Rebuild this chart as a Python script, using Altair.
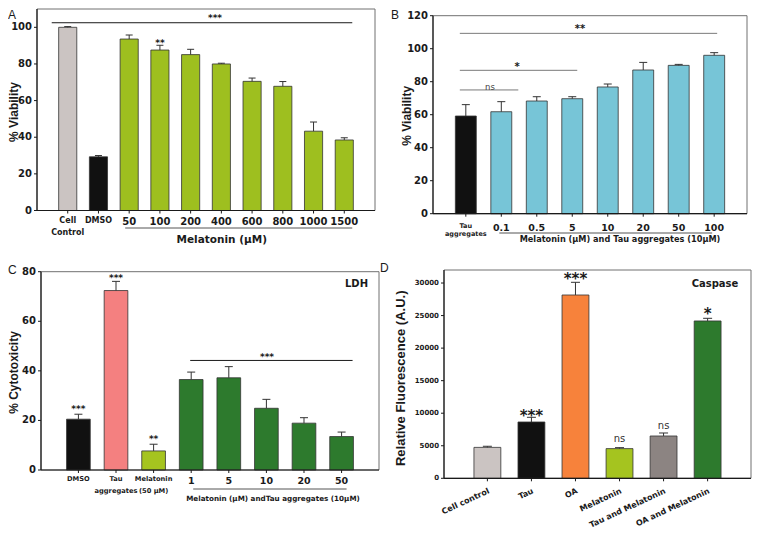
import altair as alt
import pandas as pd

W, H = 744, 521
FONT = "DejaVu Sans"
TFONT = "Liberation Sans"
INK = "#1a1a1a"
EDGE = "#333333"
FRAME = "#707070"

# ---------------- Panel A : viability vs melatonin ----------------
a_cats = ["Cell Control", "DMSO", "50", "100", "200", "400", "600", "800", "1000", "1500"]
a_vals = [100.0, 29.3, 93.6, 87.6, 85.1, 80.0, 70.5, 67.8, 43.3, 38.5]
a_errs = [0.4, 0.7, 2.2, 2.6, 2.9, 0.4, 1.8, 2.6, 5.0, 1.2]
a_ticks = [0, 20, 40, 60, 80, 100]

# ---------------- Panel B : viability, melatonin + tau ----------------
b_cats = ["Tau aggregates", "0.1", "0.5", "5", "10", "20", "50", "100"]
b_vals = [59.2, 61.8, 68.3, 69.7, 76.8, 87.1, 89.9, 96.0]
b_errs = [6.9, 6.1, 2.6, 1.2, 1.8, 4.6, 0.6, 1.6]
b_ticks = [0, 20, 40, 60, 80, 100, 120]

# ---------------- Panel C : LDH cytotoxicity ----------------
c_cats = ["DMSO", "Tau aggregates", "Melatonin (50\u00a0μM)", "1", "5", "10", "20", "50"]
c_vals = [20.5, 72.4, 7.7, 36.5, 37.2, 24.9, 18.9, 13.5]
c_errs = [2.0, 3.7, 2.7, 3.0, 4.5, 3.6, 2.2, 1.8]
c_ticks = [0, 20, 40, 60, 80]

# ---------------- Panel D : caspase ----------------
d_cats = ["Cell control", "Tau", "OA", "Melatonin", "Tau and Melatonin", "OA and Melatonin"]
d_vals = [4750, 8650, 28160, 4560, 6500, 24170]
d_errs = [170, 720, 1950, 150, 460, 410]
d_ticks = [0, 5000, 10000, 15000, 20000, 25000, 30000]

# significance marks over bars
a_star_cats, a_star_y, a_star_txt = ["100"], [92.8], ["**"]
c_star_cats, c_star_y, c_star_txt = ["DMSO", "Tau aggregates", "Melatonin (50\u00a0μM)"], [25.5, 78.3, 13.3], ["***", "***", "**"]
d_star_cats, d_star_y, d_star_txt = ["Tau", "OA", "OA and Melatonin"], [10230, 31200, 25880], ["***", "***", "*"]
d_ns_cats, d_ns_y = ["Melatonin", "Tau and Melatonin"], [6040, 8030]

# colours
GREY, BLACK, LIME, CYAN = "#cbc4c2", "#111111", "#9ebf1f", "#77c5d7"
SALMON, DKGREEN, ORANGE, TAUPE = "#f48080", "#2d7a2d", "#f7823b", "#8c8482"
a_colors = [GREY, BLACK] + [LIME] * 8
b_colors = [BLACK] + [CYAN] * 7
c_colors = [BLACK, SALMON, "#a5c41f"] + [DKGREEN] * 5
d_colors = [GREY, BLACK, ORANGE, "#a5c41f", TAUPE, DKGREEN]

ONE = pd.DataFrame({"k": [0]})


def bar_layers(cats, vals, errs, colors, xs, ys, ydom, xr, cap):
    df = pd.DataFrame({"cat": cats, "val": vals,
                       "top": [v + e for v, e in zip(vals, errs)], "col": colors})
    frame = alt.Chart(ONE).mark_rect(fillOpacity=0, stroke=FRAME, strokeWidth=1).encode(
        x=alt.value(xr[0]), x2=alt.value(xr[1]),
        y=alt.YDatum(ydom[1], scale=ys, axis=None), y2=alt.Y2Datum(ydom[0]))
    bars = alt.Chart(df).mark_bar(stroke=EDGE, strokeWidth=0.8).encode(
        x=alt.X("cat:N", scale=xs, axis=None, sort=cats),
        y=alt.Y("val:Q", scale=ys, axis=None),
        y2=alt.Y2Datum(0),
        color=alt.Color("col:N", scale=None))
    err = alt.Chart(df).mark_rule(color=EDGE, strokeWidth=1).encode(
        x=alt.X("cat:N", scale=xs, axis=None, sort=cats),
        y=alt.Y("val:Q", scale=ys, axis=None), y2=alt.Y2("top"))
    caps = alt.Chart(df).mark_rule(color=EDGE, strokeWidth=1, xOffset=-cap, x2Offset=cap).encode(
        x=alt.X("cat:N", scale=xs, axis=None, sort=cats), x2=alt.X2("cat"),
        y=alt.Y("top:Q", scale=ys, axis=None))
    return [frame, bars, err, caps]


def axis_layers(cats, xs, ys, xr, yr, yticks, ysize, num_size, txt_size, line_h,
                gap=4, rotated=False):
    tdf = pd.DataFrame({"v": yticks})
    cdf = pd.DataFrame({"cat": cats})
    ydomain = alt.Chart(ONE).mark_rule(color=INK, strokeWidth=1.2).encode(
        x=alt.value(xr[0]), y=alt.value(yr[1]), y2=alt.value(yr[0]))
    xdomain = alt.Chart(ONE).mark_rule(color=INK, strokeWidth=1.2).encode(
        x=alt.value(xr[0]), x2=alt.value(xr[1]), y=alt.value(yr[0]))
    yt = alt.Chart(tdf).mark_rule(color=INK, strokeWidth=1).encode(
        x=alt.value(xr[0] - 3), x2=alt.value(xr[0]), y=alt.Y("v:Q", scale=ys, axis=None))
    yl = alt.Chart(tdf).mark_text(font=FONT, fontWeight="bold", fontSize=ysize, color=INK,
                                  align="right", baseline="middle").encode(
        x=alt.value(xr[0] - 5), y=alt.Y("v:Q", scale=ys, axis=None),
        text=alt.Text("v:Q", format="d"))
    xt = alt.Chart(cdf).mark_rule(color=INK, strokeWidth=1).encode(
        x=alt.X("cat:N", scale=xs, axis=None), y=alt.value(yr[0]), y2=alt.value(yr[0] + 3))
    if rotated:
        xl = alt.Chart(cdf).mark_text(font=FONT, fontWeight="bold", fontSize=num_size, color=INK,
                                      align="right", baseline="top", angle=335).encode(
            x=alt.X("cat:N", scale=xs, axis=None), y=alt.value(yr[0] + gap), text="cat:N")
    else:
        xl = alt.Chart(cdf).transform_calculate(
            lab="replace(datum.cat, ' ', '\\n')"
        ).mark_text(font=FONT, fontWeight="bold", color=INK, align="center", baseline="top",
                    lineBreak="\n", lineHeight=line_h).encode(
            x=alt.X("cat:N", scale=xs, axis=None), y=alt.value(yr[0] + gap), text="lab:N",
            size=alt.condition("isNaN(toNumber(datum.cat))", alt.value(txt_size), alt.value(num_size)))
    return [ydomain, xdomain, yt, yl, xt, xl]


def cat_text(cats, yv, texts, xs, ys, size, weight="bold", color=INK, dy=0):
    df = pd.DataFrame({"cat": cats, "y": yv, "t": texts})
    return alt.Chart(df).mark_text(font=FONT, fontSize=size, fontWeight=weight, color=color,
                                   baseline="middle", dy=dy).encode(
        x=alt.X("cat:N", scale=xs, axis=None), y=alt.Y("y:Q", scale=ys, axis=None), text="t:N")


def px_text(txt, x, yv, ys, size, weight="bold", color=INK, dy=0, align="center"):
    df = pd.DataFrame({"y": [yv], "t": [txt]})
    return alt.Chart(df).mark_text(font=FONT, fontSize=size, fontWeight=weight, color=color,
                                   baseline="middle", dy=dy, align=align).encode(
        x=alt.value(x), y=alt.Y("y:Q", scale=ys, axis=None), text="t:N")


def sig_line(c1, c2, yv, xs, ys, o1, o2, color, pixel_y=None):
    df = pd.DataFrame({"a": [c1], "b": [c2], "y": [yv]})
    enc = dict(x=alt.X("a:N", scale=xs, axis=None), x2=alt.X2("b"))
    if pixel_y is None:
        enc["y"] = alt.Y("y:Q", scale=ys, axis=None)
    else:
        enc["y"] = alt.value(pixel_y)
    return alt.Chart(df).mark_rule(color=color, strokeWidth=1, xOffset=o1, x2Offset=o2).encode(**enc)


def label(txt, x, y, size, font=FONT, weight="bold", angle=0, align="center", baseline="middle"):
    return alt.Chart(pd.DataFrame({"t": [txt]})).mark_text(
        font=font, fontSize=size, fontWeight=weight, angle=angle, align=align,
        baseline=baseline, color=INK).encode(x=alt.value(x), y=alt.value(y), text="t:N")


# ---------------- build panel A ----------------
a_xr, a_yr, a_dom = [29, 367], [202.5, 1], [0, 110]
a_xs = alt.Scale(domain=a_cats, range=a_xr, paddingInner=0.41, paddingOuter=0.705)
a_ys = alt.Scale(domain=a_dom, range=a_yr, nice=False)
pA = alt.layer(
    *bar_layers(a_cats, a_vals, a_errs, a_colors, a_xs, a_ys, a_dom, a_xr, 3.5),
    *axis_layers(a_cats, a_xs, a_ys, a_xr, a_yr, a_ticks, 10, 10, 8, 12, gap=6),
    sig_line("Cell Control", "1500", 102.5, a_xs, a_ys, -16, 8, INK),
    px_text("***", 207, 106, a_ys, 9, dy=2),
    cat_text(a_star_cats, a_star_y, a_star_txt, a_xs, a_ys, 9, dy=2),
    sig_line("50", "1500", 0, a_xs, a_ys, -4, 8, "#555555", pixel_y=220),
)

# ---------------- build panel B ----------------
b_xr, b_yr, b_dom = [425, 739], [205.7, 7.7], [0, 120]
b_xs = alt.Scale(domain=b_cats, range=b_xr, paddingInner=0.41, paddingOuter=0.63)
b_ys = alt.Scale(domain=b_dom, range=b_yr, nice=False)
pB = alt.layer(
    *bar_layers(b_cats, b_vals, b_errs, b_colors, b_xs, b_ys, b_dom, b_xr, 4),
    *axis_layers(b_cats, b_xs, b_ys, b_xr, b_yr, b_ticks, 10, 9.5, 6.5, 8.5, gap=9),
    sig_line("Tau aggregates", "100", 109.3, b_xs, b_ys, -6, 3, "#7a7a7a"),
    sig_line("Tau aggregates", "5", 86.9, b_xs, b_ys, -6, 5, "#7a7a7a"),
    sig_line("Tau aggregates", "0.1", 75.0, b_xs, b_ys, -6, 17, "#7a7a7a"),
    px_text("**", 572, 113.2, b_ys, 10, dy=2),
    px_text("*", 509, 90.1, b_ys, 10, dy=2),
    px_text("ns", 482, 76.6, b_ys, 8.5, weight="normal", color="#444444"),
    sig_line("0.1", "100", 0, b_xs, b_ys, -2, -2, "#555555", pixel_y=225),
)

# ---------------- build panel C ----------------
c_xr, c_yr, c_dom = [33, 371], [462, 263.7], [0, 80]
c_xs = alt.Scale(domain=c_cats, range=c_xr, paddingInner=0.37, paddingOuter=0.68)
c_ys = alt.Scale(domain=c_dom, range=c_yr, nice=False)
pC = alt.layer(
    *bar_layers(c_cats, c_vals, c_errs, c_colors, c_xs, c_ys, c_dom, c_xr, 4),
    *axis_layers(c_cats, c_xs, c_ys, c_xr, c_yr, c_ticks, 10, 9.5, 6.7, 12, gap=6),
    sig_line("1", "50", 44.2, c_xs, c_ys, -1, 11, INK),
    px_text("***", 259, 46.4, c_ys, 9, dy=2),
    cat_text(c_star_cats, c_star_y, c_star_txt, c_xs, c_ys, 9, dy=2),
    px_text("LDH", 360, 75, c_ys, 10, align="right"),
    sig_line("1", "50", 0, c_xs, c_ys, 2, 5, "#555555", pixel_y=481),
)

# ---------------- build panel D ----------------
d_xr, d_yr, d_dom = [436, 743], [470.3, 262], [0, 32000]
d_xs = alt.Scale(domain=d_cats, range=d_xr, paddingInner=0.39, paddingOuter=0.68)
d_ys = alt.Scale(domain=d_dom, range=d_yr, nice=False)
pD = alt.layer(
    *bar_layers(d_cats, d_vals, d_errs, d_colors, d_xs, d_ys, d_dom, d_xr, 4.5),
    *axis_layers(d_cats, d_xs, d_ys, d_xr, d_yr, d_ticks, 7, 8, 8, 10, gap=9, rotated=True),
    cat_text(d_star_cats, d_star_y, d_star_txt, d_xs, d_ys, 15, dy=4),
    cat_text(d_ns_cats, d_ns_y, ["ns", "ns"], d_xs, d_ys, 10, weight="normal", color="#333333"),
    px_text("Caspase", 707, 29880, d_ys, 10),
)

# ---------------- titles and panel letters ----------------
texts = [
    label("Melatonin (μM)", 213.7, 232, 10.5),
    label("Melatonin (μM) and Tau aggregates (10μM)", 612, 232, 8.2),
    label("Melatonin (μM) andTau aggregates (10μM)", 265, 491, 7.2),
    label("% Viability", 6, 104, 12, font=TFONT, angle=270),
    label("% Viability", 398.5, 107.8, 12, font=TFONT, angle=270),
    label("% Cytotoxicity", 6, 364.5, 12, font=TFONT, angle=270),
    label("Relative Fluorescence (A.U.)", 392.5, 370.3, 13, font=TFONT, angle=270),
    label("A", 0, 2, 12, font=TFONT, weight="normal", align="left", baseline="top"),
    label("B", 383, 2, 12, font=TFONT, weight="normal", align="left", baseline="top"),
    label("C", 0, 257, 12, font=TFONT, weight="normal", align="left", baseline="top"),
    label("D", 372, 255, 12, font=TFONT, weight="normal", align="left", baseline="top"),
]

chart = alt.layer(pA, pB, pC, pD, *texts).resolve_scale(
    x="independent", y="independent"
).properties(
    width=W, height=H, padding=0, autosize=alt.AutoSizeParams(type="none")
).configure_view(stroke=None)

chart.save("out.html", embed_options={"renderer": "svg", "actions": False})
